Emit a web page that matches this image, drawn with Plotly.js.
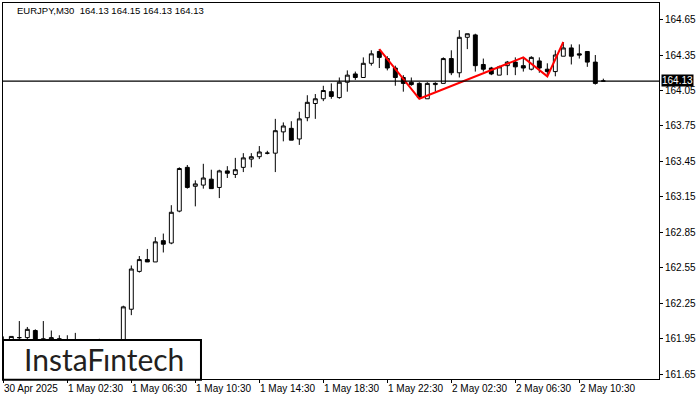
<!DOCTYPE html>
<html>
<head>
<meta charset="utf-8">
<script src="https://cdn.plot.ly/plotly-3.0.1.min.js"></script>
<style>html,body{margin:0;padding:0;background:#fff;}#chart{width:700px;height:400px;}</style>
</head>
<body>
<div id="chart"></div>
<script>
// ---- data (EURJPY, M30), bar index 0 = 30 Apr 22:30 ----
const symbol = "EURJPY";
const timeframe = "M30";
const openP = [161.92,161.93,161.96,161.96,162.02,161.95,161.92,161.94,161.93,161.92,
  161.90,161.88,161.89,161.91,161.90,161.92,162.20,162.52,162.62,162.60,
  162.78,162.76,163.03,163.40,163.24,163.25,163.30,163.23,163.37,163.34,
  163.40,163.47,163.49,163.52,163.52,163.70,163.73,163.64,163.82,163.94,
  163.98,164.04,163.99,164.12,164.19,164.16,164.28,164.38,164.32,164.24,
  164.16,164.12,164.11,163.98,164.10,164.11,164.32,164.20,164.50,164.52,
  164.27,164.24,164.18,164.26,164.29,164.26,164.23,164.30,164.23,164.21,
  164.34,164.41,164.36,164.38,164.29,164.13];
const highP = [161.97,161.97,162.10,162.05,162.03,162.10,162.02,161.98,161.98,162.00,
  161.93,161.92,161.95,161.93,161.94,162.23,162.57,162.65,162.71,162.81,
  162.84,163.08,163.40,163.42,163.29,163.43,163.38,163.38,163.41,163.48,
  163.52,163.52,163.58,163.54,163.81,163.78,163.79,163.87,164.01,164.02,
  164.09,164.11,164.16,164.22,164.21,164.33,164.39,164.40,164.34,164.26,
  164.18,164.16,164.12,164.12,164.12,164.33,164.39,164.56,164.53,164.53,
  164.32,164.25,164.26,164.30,164.33,164.33,164.34,164.33,164.28,164.39,
  164.46,164.44,164.44,164.38,164.35,164.15];
const lowP = [161.88,161.90,161.91,161.93,161.90,161.90,161.90,161.89,161.88,161.86,
  161.85,161.84,161.86,161.87,161.88,161.90,162.15,162.51,162.60,162.60,
  162.68,162.75,163.02,163.22,163.07,163.22,163.22,163.14,163.31,163.31,
  163.36,163.40,163.47,163.51,163.36,163.62,163.63,163.59,163.79,163.81,
  163.96,163.98,163.98,164.04,164.14,164.16,164.26,164.24,164.22,164.09,
  164.04,164.09,163.98,163.98,164.04,164.11,164.18,164.16,164.40,164.21,
  164.21,164.18,164.18,164.18,164.18,164.21,164.22,164.20,164.17,164.17,
  164.34,164.27,164.32,164.25,164.10,164.13];
const closeP = [161.93,161.97,161.96,162.03,161.93,161.94,161.96,161.95,161.92,161.90,
  161.88,161.89,161.91,161.90,161.92,162.22,162.54,162.62,162.60,162.77,
  162.75,163.02,163.39,163.23,163.26,163.31,163.22,163.37,163.35,163.38,
  163.48,163.49,163.53,163.52,163.71,163.75,163.63,163.81,163.95,163.98,
  164.05,164.00,164.12,164.18,164.16,164.28,164.36,164.33,164.24,164.16,
  164.11,164.10,163.99,164.11,164.11,164.32,164.20,164.50,164.53,164.26,
  164.23,164.19,164.25,164.29,164.25,164.24,164.33,164.24,164.21,164.35,
  164.41,164.34,164.35,164.29,164.11,164.13];

// pattern (red) line: bar index and price
const patternX = [47, 52, 65, 68, 70];
const patternY = [164.40, 163.98, 164.33, 164.17, 164.46];

// axis ticks
const timeTickVals = [0, 8, 16, 24, 32, 40, 48, 56, 64, 72];
const timeTickText = ["30 Apr 2025","1 May 02:30","1 May 06:30","1 May 10:30","1 May 14:30",
  "1 May 18:30","1 May 22:30","2 May 02:30","2 May 06:30","2 May 10:30"];
const priceTickVals = [161.65,161.95,162.25,162.55,162.85,163.15,163.45,163.75,164.05,164.35,164.65];
const priceTickText = ["161.65","161.95","162.25","162.55","162.85","163.15","163.45","163.75","164.05","164.35","164.65"];
const currentPrice = 164.13;
const logoText = "InstaF\u0131ntech";

const barIndex = openP.map((_, i) => i);
const last = openP.length - 1;
const fmt = v => v.toFixed(2);
const titleText = symbol + "," + timeframe + "\u00a0 " + fmt(openP[last]) + " " + fmt(highP[last]) + " " + fmt(lowP[last]) + " " + fmt(closeP[last]);

const FONT = "Liberation Sans, Arial, sans-serif";

const traces = [
  {
    type: "candlestick",
    x: barIndex, open: openP, high: highP, low: lowP, close: closeP,
    increasing: {line: {color: "#000", width: 1}, fillcolor: "#ffffff"},
    decreasing: {line: {color: "#000", width: 1}, fillcolor: "#000000"},
    whiskerwidth: 0,
    hoverinfo: "skip",
    showlegend: false
  },
  {
    type: "scatter", mode: "lines",
    x: patternX, y: patternY,
    line: {color: "#ff0000", width: 2},
    hoverinfo: "skip", showlegend: false
  }
];

const annotations = timeTickVals.map((v, i) => ({
  x: v, xref: "x", y: 0, yref: "paper",
  text: timeTickText[i], showarrow: false,
  xanchor: "left", yanchor: "top", xshift: -1, yshift: -2,
  font: {family: FONT, size: 10, color: "#000"}
}));
annotations.push({
  x: 1, xref: "paper", y: currentPrice, yref: "y",
  text: fmt(currentPrice), showarrow: false,
  xanchor: "left", yanchor: "middle", xshift: 2, yshift: 1,
  bgcolor: "#000", borderpad: 0,
  font: {family: FONT, size: 10, color: "#fff"}
});
annotations.push({
  x: 0.1545, xref: "paper", y: 0.052, yref: "paper",
  text: logoText, showarrow: false,
  xanchor: "center", yanchor: "middle",
  font: {family: "Lato, Open Sans, sans-serif", size: 30, color: "#231f20"}
});

const layout = {
  width: 700, height: 400,
  margin: {l: 3, r: 41, t: 3, b: 21, pad: 0},
  paper_bgcolor: "#fff", plot_bgcolor: "#fff",
  showlegend: false,
  title: {
    text: titleText, x: 17 / 700, xanchor: "left", xref: "container",
    y: 1 - 11 / 400, yanchor: "middle", yref: "container",
    font: {family: FONT, size: 9.5, color: "#000"}
  },
  xaxis: {
    range: [-0.04, 81.96], fixedrange: true,
    rangeslider: {visible: false},
    tickmode: "array", tickvals: timeTickVals, ticktext: timeTickText,
    showticklabels: false,
    ticks: "outside", ticklen: 3, tickcolor: "#000", tickwidth: 1,
    showgrid: false, zeroline: false,
    showline: true, linecolor: "#000", linewidth: 1, mirror: true
  },
  yaxis: {
    side: "right",
    range: [161.61, 164.79], fixedrange: true,
    tickmode: "array", tickvals: priceTickVals, ticktext: priceTickText,
    ticks: "outside", ticklen: 3, tickcolor: "#000", tickwidth: 1,
    tickfont: {family: FONT, size: 10, color: "#000"},
    showgrid: false, zeroline: false,
    showline: true, linecolor: "#000", linewidth: 1, mirror: true
  },
  shapes: [
    {type: "line", xref: "paper", x0: 0, x1: 1, yref: "y", y0: currentPrice, y1: currentPrice,
     line: {color: "#000", width: 1.2}, layer: "above"},
    {type: "rect", xref: "paper", x0: 0, x1: 0.3018, yref: "paper", y0: -0.002, y1: 0.104,
     line: {color: "#000", width: 2}, fillcolor: "#fff", layer: "above"}
  ],
  annotations: annotations
};

Plotly.newPlot("chart", traces, layout, {staticPlot: true, displayModeBar: false});
</script>
</body>
</html>
